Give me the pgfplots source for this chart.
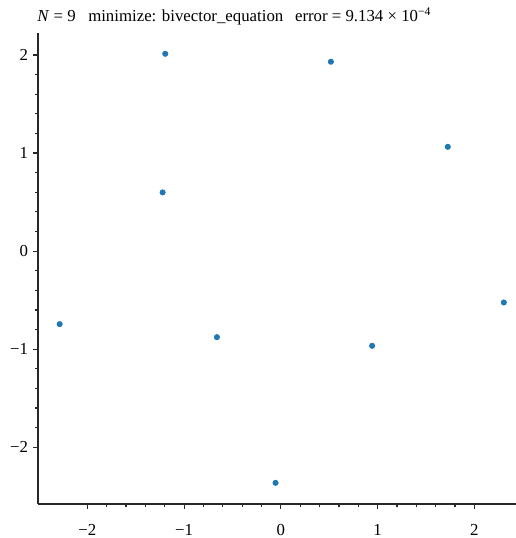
\documentclass[border=0pt]{standalone}
\usepackage{fontspec}
\setmainfont{Liberation Serif}
\usepackage{pgfplots}
\pgfplotsset{compat=1.18}
\definecolor{dotblue}{RGB}{31,119,180}
\definecolor{spine}{RGB}{40,40,40}

\begin{document}
\begin{tikzpicture}
  \fontsize{8.4}{10}\selectfont
  % keep the white margin of the reference around the axis
  \path[use as bounding box] (-19pt,-17pt) rectangle (239pt,252pt);
  \begin{axis}[
    width = 239pt,
    height = 235.5pt,
    scale only axis,
    xmin = -2.51, xmax = 2.43,
    ymin = -2.58, ymax = 2.225,
    axis x line* = bottom,
    axis y line* = left,
    axis line style = {spine, line width=0.7pt, -},
    tick align = outside,
    major tick length = 2.5pt,
    minor tick length = 1.5pt,
    tick style = {spine, line width=0.6pt},
    minor tick num = 4,
    xtick = {-2,-1,0,1,2},
    ytick = {-2,-1,0,1,2},
    xticklabels = {−2,−1,0,1,2},
    yticklabels = {−2,−1,0,1,2},
    xticklabel style = {yshift=-4.5pt},
    yticklabel style = {xshift=0.5pt},
    title = {\textit{N} = 9\hspace{0.75em}minimize: bivector\_equation\hspace{0.7em}error = 9.134 × 10\textsuperscript{−4}},
    title style = {at={(0,1)}, anchor=base west, inner sep=0pt, yshift=0pt, xshift=-0.5pt},
  ]
  \addplot[only marks, mark=*, mark size=1.3pt, color=dotblue]
  coordinates {
    (-1.195, 2.013)
    (0.517, 1.932)
    (1.725, 1.064)
    (-1.222, 0.599)
    (-2.286, -0.745)
    (-0.661, -0.878)
    (0.943, -0.966)
    (2.304, -0.524)
    (-0.055, -2.364)
  };
  \end{axis}
\end{tikzpicture}
\end{document}
